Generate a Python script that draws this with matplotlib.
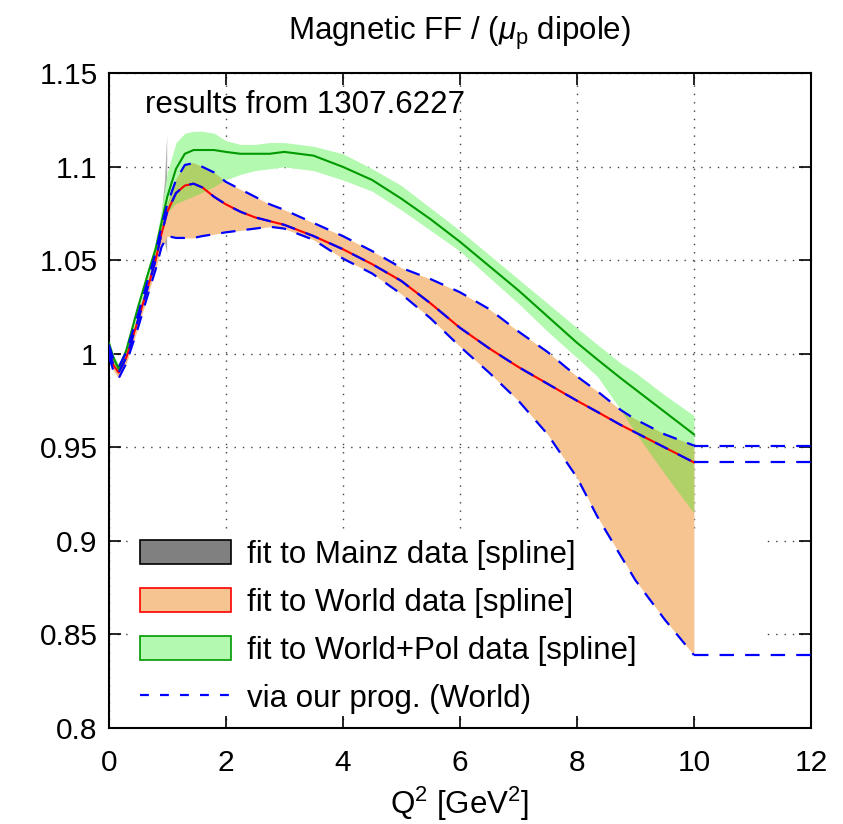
import numpy as np
import matplotlib
matplotlib.use("Agg")
import matplotlib.pyplot as plt
from matplotlib.patches import Patch, Rectangle
from matplotlib.lines import Line2D

plt.rcParams['font.family'] = ['Liberation Sans', 'DejaVu Sans']
plt.rcParams['mathtext.fontset'] = 'custom'
plt.rcParams['mathtext.rm'] = 'Liberation Sans'
plt.rcParams['mathtext.it'] = 'Liberation Sans:italic'

# Q^2 grid (GeV^2)
q2 = [0.0, 0.08, 0.17, 0.3, 0.5, 0.7, 0.8, 0.9, 1.0, 1.15, 1.3, 1.45, 1.6, 1.8,
      2.0, 2.25, 2.5, 2.75, 3.0, 3.5, 4.0, 4.5, 5.0, 5.5, 6.0, 6.5, 7.0, 7.5,
      8.0, 8.35, 8.75, 9.0, 9.5, 10.0]

# fit to World data (central)
world = [1.002, 0.994, 0.990, 0.998, 1.018, 1.039, 1.050, 1.064, 1.076, 1.086,
         1.090, 1.091, 1.089, 1.084, 1.080, 1.076, 1.073, 1.071, 1.069, 1.063,
         1.056, 1.048, 1.039, 1.027, 1.014, 1.003, 0.993, 0.984, 0.975, 0.969,
         0.962, 0.958, 0.950, 0.942]

# fit to World+Pol data (central, upper, lower)
pol = [1.006, 0.998, 0.992, 1.002, 1.025, 1.046, 1.056, 1.070, 1.084, 1.099,
       1.107, 1.109, 1.109, 1.109, 1.108, 1.107, 1.107, 1.107, 1.108, 1.106,
       1.100, 1.093, 1.083, 1.072, 1.060, 1.047, 1.034, 1.020, 1.006, 0.997,
       0.987, 0.981, 0.969, 0.957]
pol_hi = [1.008, 1.000, 0.994, 1.004, 1.027, 1.049, 1.060, 1.077, 1.097, 1.113,
          1.118, 1.119, 1.119, 1.118, 1.114, 1.112, 1.112, 1.113, 1.113, 1.111,
          1.107, 1.099, 1.090, 1.078, 1.066, 1.053, 1.040, 1.027, 1.014, 1.005,
          0.995, 0.990, 0.978, 0.967]
pol_lo = [1.003, 0.995, 0.990, 0.999, 1.022, 1.043, 1.052, 1.063, 1.075, 1.080,
          1.082, 1.084, 1.086, 1.089, 1.093, 1.096, 1.098, 1.099, 1.100, 1.098,
          1.093, 1.087, 1.077, 1.066, 1.055, 1.041, 1.027, 1.012, 0.998, 0.988,
          0.970, 0.958, 0.936, 0.915]

# via our prog. (World): upper / lower error curves (band of World fit)
prog_hi = [1.005, 0.997, 0.993, 1.001, 1.021, 1.043, 1.054, 1.068, 1.080, 1.093,
           1.101, 1.102, 1.100, 1.097, 1.092, 1.088, 1.084, 1.080, 1.077, 1.070,
           1.063, 1.055, 1.046, 1.040, 1.033, 1.024, 1.012, 1.001, 0.988, 0.980,
           0.970, 0.965, 0.957, 0.951]
prog_lo = [0.999, 0.991, 0.987, 0.995, 1.014, 1.035, 1.045, 1.057, 1.063, 1.062,
           1.062, 1.062, 1.063, 1.064, 1.065, 1.066, 1.067, 1.068, 1.067, 1.061,
           1.051, 1.043, 1.032, 1.019, 1.004, 0.990, 0.975, 0.957, 0.934, 0.913,
           0.892, 0.879, 0.858, 0.839]
# program values continue flat out to Q^2 = 12
q2_ext = [10.0, 12.0]
prog_ext_hi = [0.951, 0.951]
prog_ext_mid = [0.942, 0.942]
prog_ext_lo = [0.839, 0.839]

# fit to Mainz data band (only up to ~1 GeV^2)
q2_mainz = [0.0, 0.08, 0.17, 0.3, 0.5, 0.7, 0.8, 0.9, 0.95, 0.99]
mainz_hi = [1.005, 0.998, 0.992, 1.001, 1.023, 1.045, 1.057, 1.076, 1.092, 1.117]
mainz_lo = [1.000, 0.993, 0.988, 0.996, 1.016, 1.037, 1.047, 1.058, 1.060, 1.054]

orange = '#f6c490'
lgreen = '#b3f9b0'
olive = '#b0d168'
dgreen = '#009a00'
fs = 22.5

fig = plt.figure(figsize=(8.43, 8.24), dpi=100)
ax = fig.add_axes([0.129, 0.1165, 0.833, 0.7945])
ax.set_axisbelow(True)

x = np.array(q2)
ax.fill_between(q2_mainz, mainz_lo, mainz_hi, color='#9a9a9a', lw=0, alpha=0.8, zorder=1)
ax.fill_between(x, pol_lo, pol_hi, color=lgreen, lw=0, zorder=1.1)
ax.fill_between(x, prog_lo, prog_hi, color=orange, lw=0, zorder=1.2)
ov_lo = np.maximum(pol_lo, prog_lo)
ov_hi = np.minimum(pol_hi, prog_hi)
ax.fill_between(x, ov_lo, ov_hi, where=ov_hi > ov_lo, interpolate=True,
                color=olive, lw=0, zorder=1.3)

ax.plot(x, world, color='red', lw=1.5, zorder=3)
ax.plot(x, pol, color=dgreen, lw=1.5, zorder=3)
dash = (6.5, 5)
for yy in (prog_hi, prog_lo, world):
    ax.plot(x, yy, color='blue', lw=1.6, dashes=dash, zorder=4)
for yy in (prog_ext_hi, prog_ext_mid, prog_ext_lo):
    ax.plot(q2_ext, yy, color='blue', lw=1.6, dashes=dash, zorder=4)

# white key background hiding the grid
ax.add_patch(Rectangle((0.027, 0.024), 0.905, 0.276, transform=ax.transAxes,
                       facecolor='white', edgecolor='none', zorder=0.8))

ax.set_xlim(0, 12)
ax.set_ylim(0.8, 1.15)
ax.set_xticks([0, 2, 4, 6, 8, 10, 12])
yt = [0.8, 0.85, 0.9, 0.95, 1.0, 1.05, 1.1, 1.15]
ax.set_yticks(yt)
ax.set_yticklabels(['0.8', '0.85', '0.9', '0.95', '1', '1.05', '1.1', '1.15'])
ax.tick_params(direction='in', length=8.5, width=1.2, top=True, right=True,
               labelsize=21.5)
ax.tick_params(axis='y', pad=8)
ax.tick_params(axis='x', pad=15)
for s in ax.spines.values():
    s.set_linewidth(1.5)
ax.grid(True, color='0.25', linestyle=(0, (1, 5)), linewidth=1.0)

ax.text(0.62, 1.133, 'results from 1307.6227', fontsize=fs, va='center', ha='left')
ax.set_title(r'Magnetic FF / ($\mu_\mathrm{p}$ dipole)', fontsize=fs, pad=24)
ax.set_xlabel(r'Q$^2$ [GeV$^2$]', fontsize=fs, labelpad=6)

handles = [Patch(facecolor='#808080', edgecolor='black', lw=1.2),
           Patch(facecolor=orange, edgecolor='red', lw=1.2),
           Patch(facecolor=lgreen, edgecolor=dgreen, lw=1.2),
           Line2D([], [], color='blue', lw=1.6, dashes=(4, 5))]
labels = ['fit to Mainz data [spline]', 'fit to World data [spline]',
          'fit to World+Pol data [spline]', 'via our prog. (World)']
ax.legend(handles, labels, loc='lower left', bbox_to_anchor=(0.045, 0.022),
          frameon=False, fontsize=fs, handlelength=2.9, handleheight=0.8,
          handletextpad=0.5, labelspacing=0.57, borderpad=0, borderaxespad=0)

fig.savefig('out.png', dpi=100)
